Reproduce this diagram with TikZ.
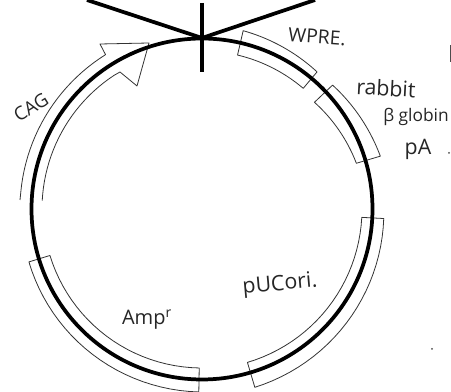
\documentclass[tikz,border=0pt]{standalone}
\usepackage{fontspec}
\setmainfont{Open Sans}
\newcommand{\bandbox}[6]{%
  % start angle, end angle, outer r start, outer r end, inner r start, inner r end
  \draw[bandline] ({202+#3*cos(#1)},{183+#3*sin(#1)})
    \foreach \t in {1,...,24}{ -- ({202+(#3+(#4-#3)*\t/24)*cos(#1+(#2-#1)*\t/24)},{183+(#3+(#4-#3)*\t/24)*sin(#1+(#2-#1)*\t/24)}) }
    -- ({202+#6*cos(#2)},{183+#6*sin(#2)})
    \foreach \t in {23,...,0}{ -- ({202+(#5+(#6-#5)*\t/24)*cos(#1+(#2-#1)*\t/24)},{183+(#5+(#6-#5)*\t/24)*sin(#1+(#2-#1)*\t/24)}) }
    -- cycle;}
\tikzset{
  bandline/.style={line width=0.6pt,black!80,line join=round},
  heavy/.style={line width=2.8pt,black},
  hand/.style={font=\fontsize{13}{14}\selectfont,black!85,inner sep=0pt}
}
\begin{document}
\begin{tikzpicture}[x=0.75pt,y=0.75pt]
\useasboundingbox (0,0) rectangle (451,392);
\fill[white] (0,0) rectangle (451,392);
% bands
\bandbox{77}{50}{183}{179}{158}{157.5}
\bandbox{43.5}{16.5}{180}{186}{155}{161}
\bandbox{-3}{-73.5}{182}{186}{160}{160}
\bandbox{197}{269}{181}{183}{159}{159}
% CAG arrow
\coordinate (arrowTip) at (149,349);
\draw[bandline] (20,192)
  \foreach \t in {1,...,24}{ -- ({202+182*cos(177-(177-122)*\t/24)},{183+182*sin(177-(177-122)*\t/24)}) }
  -- (100,348) -- (arrowTip) -- (137,306) -- (120,320)
  \foreach \t in {23,...,0}{ -- ({202+160*cos(177-(177-121)*\t/24)},{183+160*sin(177-(177-121)*\t/24)}) };
% plasmid circle
\coordinate (ringCentre) at (202,183);
\draw[heavy] (ringCentre) circle[radius=170.5];
% cut lines
\coordinate (junction) at (202,354);
\coordinate (leftEnd) at (87,392);
\coordinate (rightEnd) at (315,392);
\coordinate (upEnd) at (202,389);
\coordinate (downEnd) at (202,320);
\draw[heavy] (leftEnd) -- (junction) -- (rightEnd);
\draw[heavy,line width=3pt] (upEnd) -- (downEnd);
% labels
\node[hand,rotate=-4,font=\fontsize{14.5}{15}\selectfont] (wpre) at (317,355) {WPRE.};
\node[hand,rotate=-3,font=\fontsize{16}{17}\selectfont] (rabbit) at (386,304) {rabbit};
\node[hand] (globin) at (416,275) {β globin};
\node[hand,font=\fontsize{16}{17}\selectfont] (pa) at (418,243) {pA};
\node[hand,rotate=32,font=\fontsize{14}{15}\selectfont] (cag) at (31,285) {CAG};
\node[hand,font=\fontsize{15}{16}\selectfont] (amp) at (147,72) {Amp\textsuperscript{r}};
\node[hand,rotate=5,font=\fontsize{16}{17}\selectfont] (puc) at (280,107) {pUCori.};
% specks
\fill[black!70] (432,43) circle[radius=1];
\fill[black!70] (449,239) circle[radius=1];
\draw[black!70,line width=0.6pt] (450,347) -- (450,330);
\end{tikzpicture}
\end{document}
